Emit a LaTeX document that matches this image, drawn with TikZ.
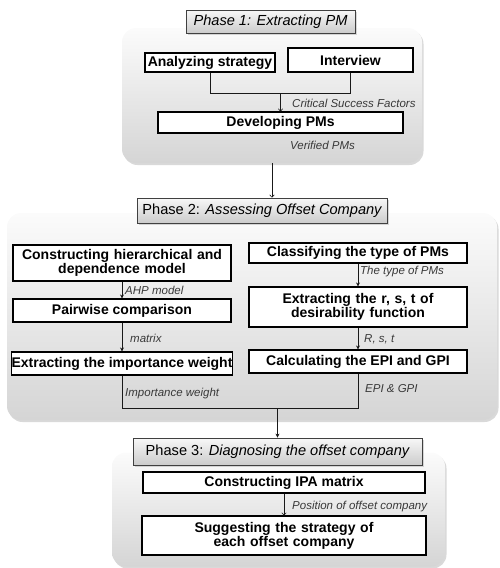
\documentclass[tikz,border=0pt]{standalone}
\usepackage{fontspec}
\setmainfont{Liberation Sans}
\usetikzlibrary{shadows,arrows.meta}

\begin{document}
\begin{tikzpicture}[x=1pt,y=-1pt,>=stealth,
	panel/.style={rounded corners=14pt, top color=gray!3, bottom color=gray!33, draw=none,
		drop shadow={opacity=0.3,shadow xshift=1.5pt,shadow yshift=-2pt}},
	phasebox/.style={draw=gray!50!black, line width=0.8pt, top color=gray!6, bottom color=gray!40,
		inner sep=0pt, font=\fontsize{14.6}{16}\selectfont,
		drop shadow={opacity=0.3,shadow xshift=1.5pt,shadow yshift=-1.5pt}},
	stepbox/.style={draw, line width=1.1pt, fill=white, inner sep=0pt, align=center,
		font=\fontsize{14}{15}\selectfont\bfseries},
	lbl/.style={anchor=west, inner sep=0pt, text=gray!45!black,
		font=\fontsize{11.5}{12}\selectfont\itshape},
	link/.style={line width=0.6pt, gray!20!black},
	open/.style={link, -{To[length=3pt,width=5pt]}},
	solid/.style={link, -{Stealth[length=4pt,width=4pt]}}]
	\useasboundingbox (0,0) rectangle (499,568);
	% phase panels
	\node[panel, minimum width=300pt, minimum height=135pt] (p1panel) at (272,95.5) {};
	\node[panel, minimum width=490pt, minimum height=207pt] (p2panel) at (252,316.5) {};
	\node[panel, minimum width=333pt, minimum height=114pt] (p3panel) at (278.5,509.5) {};
	% phase titles
	\node[phasebox, minimum width=169pt, minimum height=23pt] (p1title) at (270.5,21.5) {\itshape Phase 1: Extracting PM};
	\node[phasebox, minimum width=250pt, minimum height=25pt] (p2title) at (262,210.5) {Phase 2: \itshape Assessing Offset Company};
	\node[phasebox, minimum width=289pt, minimum height=27pt] (p3title) at (277.5,451.5) {Phase 3: \itshape Diagnosing the offset company};
	% phase 1
	\node[stepbox, minimum width=130pt, minimum height=19pt] (ana) at (210,62.5) {Analyzing strategy};
	\node[stepbox, minimum width=125pt, minimum height=24pt] (intv) at (350.5,60) {Interview};
	\node[stepbox, minimum width=245pt, minimum height=21pt] (dev) at (280.5,122.5) {Developing PMs};
	\coordinate (j1) at (280.5,93);
	\draw[link] (ana.south) |- (j1);
	\draw[link] (intv.south) |- (j1);
	\draw[open] (j1) -- (dev.north);
	\node[lbl] (csf) at (292,103) {Critical Success Factors};
	\node[lbl] (ver) at (290,145) {Verified PMs};
	\draw[open] (p1panel.south) -- (p1panel.south |- p2title.north);
	% phase 2, left
	\node[stepbox, minimum width=218pt, minimum height=36pt, text width=214pt] (hier) at (122,263)
		{Constructing hierarchical and\\[-1pt] dependence model};
	\node[stepbox, minimum width=218pt, minimum height=23pt] (pair) at (122,310.5) {Pairwise comparison};
	\node[stepbox, minimum width=218pt, minimum height=23pt] (imp) at (122,363.5) {Extracting the importance weight};
	\draw[solid] (hier) -- (pair);
	\draw[solid] (pair) -- (imp);
	\node[lbl] (ahp) at (125,290) {AHP model};
	\node[lbl] (mat) at (130,338) {matrix};
	\node[lbl] (impw) at (125,394) {Importance weight};
	% phase 2, right
	\node[stepbox, minimum width=218pt, minimum height=20pt] (cls) at (358,253) {Classifying the type of PMs};
	\node[stepbox, minimum width=218pt, minimum height=40pt, text width=214pt] (rst) at (358,307)
		{Extracting the r, s, t of\\[-1pt] desirability function};
	\node[stepbox, minimum width=218pt, minimum height=23pt] (epi) at (358,361.5) {Calculating the EPI and GPI};
	\draw[solid] (cls) -- (rst);
	\draw[solid] (rst) -- (epi);
	\node[lbl] (typ) at (360,272) {The type of PMs};
	\node[lbl] (rstl) at (364,339) {R, s, t};
	\node[lbl] (epil) at (365,389) {EPI \& GPI};
	% merge into phase 3
	\coordinate (m) at (277.5,408);
	\draw[link] (imp.south) |- (m);
	\draw[link] (epi.south) |- (m);
	\draw[solid] (m) -- (p3title.north);
	% phase 3
	\node[stepbox, minimum width=282pt, minimum height=21pt] (ipa) at (284,482.5) {Constructing IPA matrix};
	\node[stepbox, minimum width=284pt, minimum height=39pt, text width=280pt] (sug) at (284,535.5)
		{Suggesting the strategy of\\[-1pt] each offset company};
	\draw[open] (ipa) -- (sug);
	\node[lbl] (pos) at (292,507) {Position of offset company};
\end{tikzpicture}
\end{document}
